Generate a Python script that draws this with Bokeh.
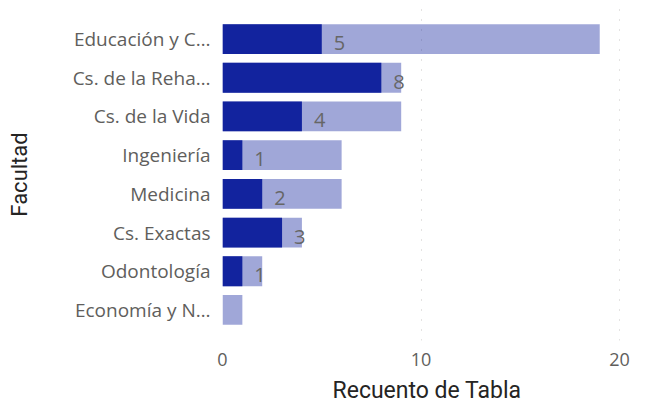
from bokeh.plotting import figure
from bokeh.models import ColumnDataSource, FactorRange, Range1d, FixedTicker
from bokeh.core.properties import value
from bokeh.embed import file_html
from bokeh.resources import INLINE

facultades = ["Educación y C…", "Cs. de la Reha…", "Cs. de la Vida", "Ingeniería",
              "Medicina", "Cs. Exactas", "Odontología", "Economía y N…"]
total = [19, 9, 9, 6, 6, 4, 2, 1]
subset = [5, 8, 4, 1, 2, 3, 1, 0]
labels = ["5", "8", "4", "1", "2", "3", "1", ""]
x_ticks = [0, 10, 20]

src = ColumnDataSource(dict(fac=facultades, total=total, subset=subset, lab=labels))

p = figure(width=645, height=406, output_backend="svg", toolbar_location=None,
           y_range=FactorRange(factors=facultades[::-1], range_padding=0.29,
                               range_padding_units="absolute"),
           x_range=Range1d(0, 20.6),
           min_border_left=222, min_border_right=14, min_border_top=8, min_border_bottom=0)
p.outline_line_color = None

p.hbar(y="fac", right="total", left=0, height=0.77, source=src,
       fill_color="#12239E", fill_alpha=0.4, line_color=None)
p.hbar(y="fac", right="subset", left=0, height=0.77, source=src,
       fill_color="#12239E", line_color=None)
p.text(x="subset", y="fac", text="lab", source=src, x_offset=12, y_offset=4,
       text_baseline="middle", text_align="left", text_color="#666666",
       text_font=value("Open Sans"), text_font_size="20px")

p.xaxis.ticker = FixedTicker(ticks=x_ticks)
p.xaxis.axis_line_color = None
p.xaxis.major_tick_line_color = None
p.xaxis.minor_tick_line_color = None
p.xaxis.major_label_text_font = "Open Sans"
p.xaxis.major_label_text_font_size = "18px"
p.xaxis.major_label_text_color = "#605E5C"
p.xaxis.major_label_text_line_height = 1.0
p.xaxis.major_label_standoff = 6
p.xaxis.axis_label = "Recuento de Tabla"
p.xaxis.axis_label_text_font = "Roboto"
p.xaxis.axis_label_text_font_style = "normal"
p.xaxis.axis_label_text_font_size = "23px"
p.xaxis.axis_label_text_color = "#252423"
p.xaxis.axis_label_text_line_height = 1.0
p.xaxis.axis_label_standoff = 8

p.yaxis.axis_line_color = None
p.yaxis.major_tick_line_color = None
p.yaxis.minor_tick_line_color = None
p.yaxis.major_label_text_font = "Open Sans"
p.yaxis.major_label_text_font_size = "19px"
p.yaxis.major_label_text_color = "#605E5C"
p.yaxis.major_label_standoff = 6
p.yaxis.axis_label = "Facultad"
p.yaxis.axis_label_text_font = "Roboto"
p.yaxis.axis_label_text_font_style = "normal"
p.yaxis.axis_label_text_font_size = "22px"
p.yaxis.axis_label_text_color = "#252423"
p.yaxis.axis_label_standoff = 38

p.ygrid.grid_line_color = None
p.xgrid.grid_line_color = "#C8C6C4"
p.xgrid.grid_line_dash = "1 9"
p.xgrid.grid_line_width = 1

open("out.html", "w").write(file_html(p, INLINE))
